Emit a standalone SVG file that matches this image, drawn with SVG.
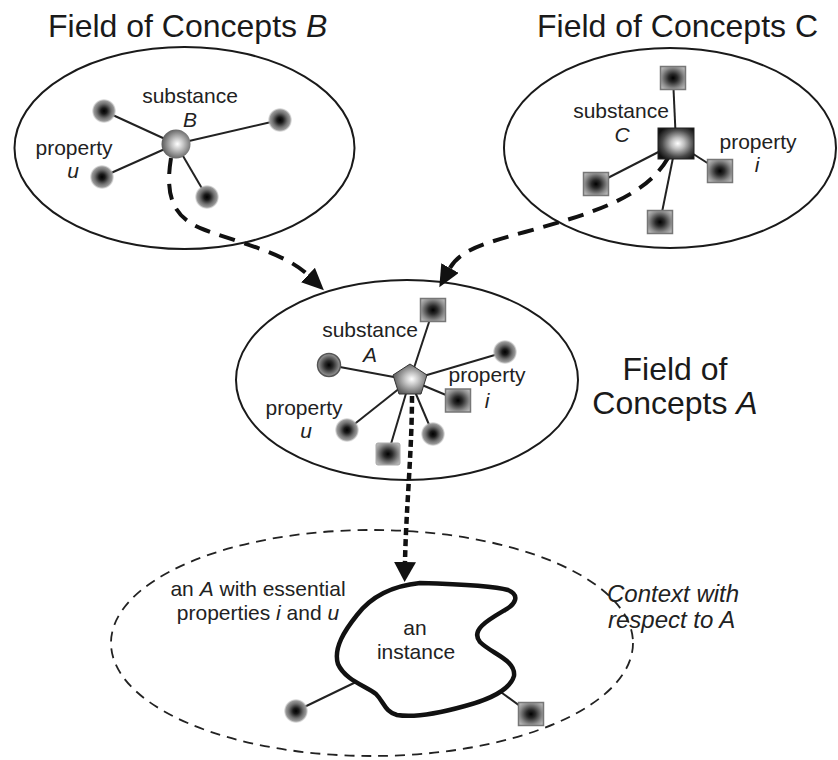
<svg xmlns="http://www.w3.org/2000/svg" width="838" height="760" viewBox="0 0 838 760">
<defs>
<radialGradient id="gDot" cx="0.5" cy="0.5" r="0.5">
<stop offset="0" stop-color="#000"/>
<stop offset="0.25" stop-color="#1a1a1a"/>
<stop offset="0.6" stop-color="#6e6e6e"/>
<stop offset="0.85" stop-color="#9a9a9a"/>
<stop offset="1" stop-color="#c8c8c8" stop-opacity="0.3"/>
</radialGradient>
<radialGradient id="gSq" cx="0.5" cy="0.5" r="0.6">
<stop offset="0" stop-color="#000"/>
<stop offset="0.3" stop-color="#2a2a2a"/>
<stop offset="0.75" stop-color="#8c8c8c"/>
<stop offset="1" stop-color="#b4b4b4"/>
</radialGradient>
<radialGradient id="gSphere" cx="0.55" cy="0.5" r="0.55">
<stop offset="0" stop-color="#fff"/>
<stop offset="0.35" stop-color="#c8c8c8"/>
<stop offset="0.8" stop-color="#7a7a7a"/>
<stop offset="1" stop-color="#5a5a5a"/>
</radialGradient>
<radialGradient id="gBig" cx="0.55" cy="0.5" r="0.62">
<stop offset="0" stop-color="#fff"/>
<stop offset="0.3" stop-color="#bdbdbd"/>
<stop offset="0.7" stop-color="#4a4a4a"/>
<stop offset="1" stop-color="#111"/>
</radialGradient>
<marker id="ah" markerUnits="userSpaceOnUse" markerWidth="24" markerHeight="20" refX="0" refY="10" orient="auto" viewBox="0 0 24 20">
<path d="M0,0 L22,10 L0,20 Z" fill="#111"/>
</marker>
<marker id="ah2" markerUnits="userSpaceOnUse" markerWidth="22" markerHeight="24" refX="0" refY="11" orient="auto" viewBox="0 0 22 24">
<path d="M0,0 L20,11 L0,22 Z" fill="#111"/>
</marker>
<style>
.title{font-family:"Liberation Sans",Arial,sans-serif;font-size:32px;fill:#1a1a1a}
.lbl{font-family:"Liberation Sans",Arial,sans-serif;font-size:21px;fill:#222;text-anchor:middle}
.ctx{font-family:"Liberation Sans",Arial,sans-serif;font-size:24px;fill:#222;font-style:italic}
.it{font-style:italic}
.field{fill:none;stroke:#1a1a1a;stroke-width:2}
.spoke{stroke:#222;stroke-width:2;fill:none}
.dot{fill:url(#gDot)}
.sq{fill:url(#gSq);stroke:#777;stroke-width:1.5}
.flow{fill:none;stroke:#111;stroke-width:4;stroke-dasharray:16 10}
</style>
</defs>
<rect width="838" height="760" fill="#fff"/>

<g id="titles">
<text class="title" x="48" y="37">Field of Concepts <tspan class="it">B</tspan></text>
<text class="title" x="537" y="37">Field of Concepts C</text>
<text class="title" x="675" y="380" text-anchor="middle">Field of</text>
<text class="title" x="675" y="414" text-anchor="middle">Concepts <tspan class="it">A</tspan></text>
</g>

<g id="field-B">
<ellipse class="field" cx="184.5" cy="148" rx="170" ry="101"/>
</g>
<g id="field-C">
<ellipse class="field" cx="670" cy="148" rx="166" ry="100"/>
</g>
<g id="field-A">
<ellipse class="field" cx="407" cy="380" rx="171" ry="100"/>
</g>
<g id="context">
<ellipse cx="372" cy="643" rx="261" ry="113" fill="none" stroke="#222" stroke-width="1.8" stroke-dasharray="10 7"/>
</g>

<g id="connectors">
<line class="spoke" x1="176" y1="144" x2="104" y2="111"/>
<line class="spoke" x1="176" y1="144" x2="280" y2="120"/>
<line class="spoke" x1="176" y1="144" x2="102" y2="177"/>
<line class="spoke" x1="176" y1="144" x2="207" y2="197"/>
<line class="spoke" x1="676" y1="143" x2="673" y2="78"/>
<line class="spoke" x1="676" y1="143" x2="596" y2="184"/>
<line class="spoke" x1="676" y1="143" x2="720" y2="171"/>
<line class="spoke" x1="676" y1="143" x2="660" y2="222"/>
<line class="spoke" x1="410" y1="380" x2="433" y2="310"/>
<line class="spoke" x1="410" y1="380" x2="329" y2="365"/>
<line class="spoke" x1="410" y1="380" x2="505" y2="352"/>
<line class="spoke" x1="410" y1="380" x2="458" y2="400"/>
<line class="spoke" x1="410" y1="380" x2="433" y2="434"/>
<line class="spoke" x1="410" y1="380" x2="347" y2="430"/>
<line class="spoke" x1="410" y1="380" x2="388" y2="454"/>
<line class="spoke" x1="356" y1="682" x2="296" y2="711"/>
<line class="spoke" x1="498" y1="690" x2="531" y2="714"/>
<path class="flow" d="M171,158 C165,195 172,218 205,230 C240,243 285,253 308,275" marker-end="url(#ah)"/>
<path class="flow" d="M668,158 C645,198 590,214 525,232 C485,243 460,250 450,268" marker-end="url(#ah)"/>
<path d="M412,396 C412,450 406,510 405,562" fill="none" stroke="#111" stroke-width="4.5" stroke-dasharray="7 4" marker-end="url(#ah2)"/>
</g>

<g id="node-B">
<circle class="dot" cx="104" cy="111" r="12"/>
<circle class="dot" cx="280" cy="120" r="12"/>
<circle class="dot" cx="102" cy="177" r="12"/>
<circle class="dot" cx="207" cy="197" r="12"/>
<circle cx="176" cy="144" r="14.5" fill="url(#gSphere)"/>
<text class="lbl" x="190" y="103">substance</text>
<text class="lbl it" x="190" y="127">B</text>
<text class="lbl" x="74" y="155">property</text>
<text class="lbl it" x="73" y="178">u</text>
</g>

<g id="node-C">
<rect class="sq" x="660.5" y="66.5" width="25" height="23"/>
<rect class="sq" x="583.5" y="172.5" width="25" height="23"/>
<rect class="sq" x="707.5" y="159.5" width="25" height="23"/>
<rect class="sq" x="647.5" y="210.5" width="25" height="23"/>
<rect x="658" y="128" width="36" height="31" fill="url(#gBig)" stroke="#222" stroke-width="1"/>
<text class="lbl" x="621" y="118">substance</text>
<text class="lbl it" x="622" y="142">C</text>
<text class="lbl" x="758" y="149">property</text>
<text class="lbl it" x="757" y="172">i</text>
</g>

<g id="node-A">
<rect class="sq" x="420.5" y="298.5" width="25" height="23"/>
<circle cx="329" cy="365" r="11.5" fill="url(#gSq)" stroke="#555" stroke-width="1.5"/>
<circle class="dot" cx="505" cy="352" r="12"/>
<rect class="sq" x="445.5" y="389" width="25" height="23"/>
<circle class="dot" cx="433" cy="434" r="12"/>
<circle class="dot" cx="347" cy="430" r="12"/>
<rect x="376" y="443" width="24" height="22" rx="2" fill="url(#gSq)" stroke="#aaa" stroke-width="1"/>
<polygon points="410,364 427,375 421,394 399,394 393,375" fill="url(#gSphere)" stroke="#333" stroke-width="1"/>
<text class="lbl" x="370" y="337">substance</text>
<text class="lbl it" x="370" y="362">A</text>
<text class="lbl" x="487" y="382">property</text>
<text class="lbl it" x="487" y="408">i</text>
<text class="lbl" x="304" y="415">property</text>
<text class="lbl it" x="306" y="438">u</text>
</g>

<g id="node-instance">
<path d="M420,583 C455,584 495,586 508,590 C520,595 516,604 505,610 C488,620 470,630 480,642 C492,654 516,660 514,676 C510,690 488,700 465,706 C440,713 415,718 397,715 C385,712 384,702 376,694 C366,686 345,680 338,664 C333,648 345,630 357,615 C370,598 390,586 420,583 Z" fill="#fff" stroke="#111" stroke-width="4.5" stroke-linejoin="round"/>
<circle class="dot" cx="296" cy="711" r="12"/>
<rect class="sq" x="518.5" y="702.5" width="25" height="23"/>
<text class="lbl" x="415" y="635">an</text>
<text class="lbl" x="416" y="659">instance</text>
</g>

<g id="labels-context">
<text class="lbl" x="258" y="596">an <tspan class="it">A</tspan> with essential</text>
<text class="lbl" x="258" y="620">properties <tspan class="it">i</tspan> and <tspan class="it">u</tspan></text>
<text class="ctx" x="607" y="602">Context with</text>
<text class="ctx" x="608" y="628">respect to A</text>
</g>
</svg>
